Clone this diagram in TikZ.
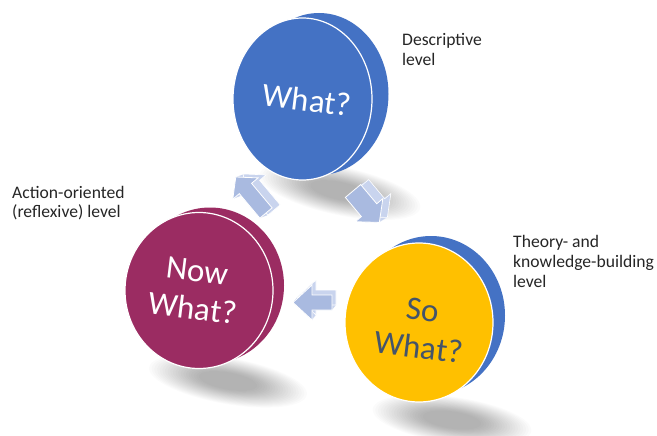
\documentclass[tikz,border=0pt]{standalone}
\usepackage{fontspec}
\setmainfont{Carlito}
\usetikzlibrary{shapes.geometric}

\definecolor{discblue}{HTML}{4472C4}
\definecolor{discplum}{HTML}{9B2C62}
\definecolor{discgold}{HTML}{FFC000}
\definecolor{slate}{HTML}{44546A}
\definecolor{arrowface}{HTML}{A9BAE0}
\definecolor{arrowside}{HTML}{C9D4EE}
\definecolor{labelgray}{HTML}{262626}

\tikzset{
  face/.style={ellipse, inner sep=0pt, draw=white, line width=1.2pt},
  rim/.style={ellipse, inner sep=0pt},
  bigword/.style={font=\fontsize{33}{38}\selectfont, align=center, rotate=-7, inner sep=0pt},
  levelnote/.style={font=\fontsize{17.6}{20}\selectfont, align=left, anchor=base west,
                    inner sep=0pt, text=labelgray},
}

% soft floor shadow: stacked translucent ellipses (cx, cy, rx, ry, tilt)
\newcommand\softshadow[5]{%
  \foreach \k in {0,...,19}{%
    \fill[black, opacity=0.017, rotate around={#5:(#1,#2)}]
      (#1,#2) ellipse [x radius={#3*(1-\k/30)}, y radius={#4*(1-\k/30)}];
  }}

% outline of a block arrow pointing along +x: length, shaft half width, head half width, head length
\newcommand\arrowoutline[4]{(0,#2) -- ({#1-#4},#2) -- ({#1-#4},#3) -- (#1,0)
  -- ({#1-#4},-#3) -- ({#1-#4},-#2) -- (0,-#2) -- cycle}

% extruded block arrow: name, tail x, tail y, direction, length, shaft hw, head hw, head length
\newcommand\blockarrow[8]{%
  \foreach \t in {1,...,8}{%
    \fill[arrowside, shift={({#2+\exx*\t/8},{#3+\exy*\t/8})}, rotate=#4]
      \arrowoutline{#5}{#6}{#7}{#8};
  }
  \draw[white, line width=0.6pt, shift={({#2+\exx},{#3+\exy})}, rotate=#4]
    \arrowoutline{#5}{#6}{#7}{#8};
  \filldraw[fill=arrowface, draw=white, line width=0.8pt, shift={(#2,#3)}, rotate=#4]
    \arrowoutline{#5}{#6}{#7}{#8};
  \coordinate (#1) at (#2,#3);
}

\begin{document}
\begin{tikzpicture}[x=1pt, y=-1pt]
  \useasboundingbox (0,0) rectangle (657,436);
  \fill[white] (0,0) rectangle (657,436);

  % floor shadows
  \softshadow{340}{191}{82}{24}{-12}
  \softshadow{228}{381}{80}{23}{-10}
  \softshadow{452}{420}{80}{23}{-8}

  % cycle arrows
  \def\exx{8}\def\exy{-3}
  \blockarrow{toWhat}{266}{213}{130}{47}{8}{16.5}{15}
  \def\exx{8}\def\exy{-5}
  \blockarrow{toSoWhat}{353}{191}{-50}{41}{10}{18}{16}
  \def\exx{4}\def\exy{-5}
  \blockarrow{toNowWhat}{332}{302.5}{180}{39}{7.5}{17.5}{19}

  % "What?" disc
  \node[rim, fill=discblue, minimum width=139pt, minimum height=162pt] (whatrim) at (319,94) {};
  \node[face, fill=discblue, minimum width=139pt, minimum height=162pt] (whatface) at (302.5,99) {};
  \node[bigword, text=white] (whatword) at (307,100) {What?};

  % "Now What?" disc
  \node[rim, fill=discplum, minimum width=148pt, minimum height=156pt] (nowrim) at (210,285.5) {};
  \node[face, fill=discplum, minimum width=148pt, minimum height=156pt] (nowface) at (199,290.5) {};
  \node[bigword, text=white] (nowword) at (195,290) {Now\\What?};

  % "So What?" disc
  \node[rim, fill=discblue, minimum width=148pt, minimum height=159pt] (sorim) at (431,315.5) {};
  \node[face, fill=discgold, minimum width=148pt, minimum height=159pt] (soface) at (419,322.5) {};
  \node[bigword, text=slate] (soword) at (421,329) {So\\What?};

  % level captions (anchored at the baseline of their last line)
  \node[levelnote] (desc) at (402,66) {Descriptive\\level};
  \node[levelnote] (action) at (12,218) {Action-oriented\\(reflexive) level};
  \node[levelnote] (theory) at (513,287) {Theory- and\\knowledge-building\\level};
\end{tikzpicture}
\end{document}
